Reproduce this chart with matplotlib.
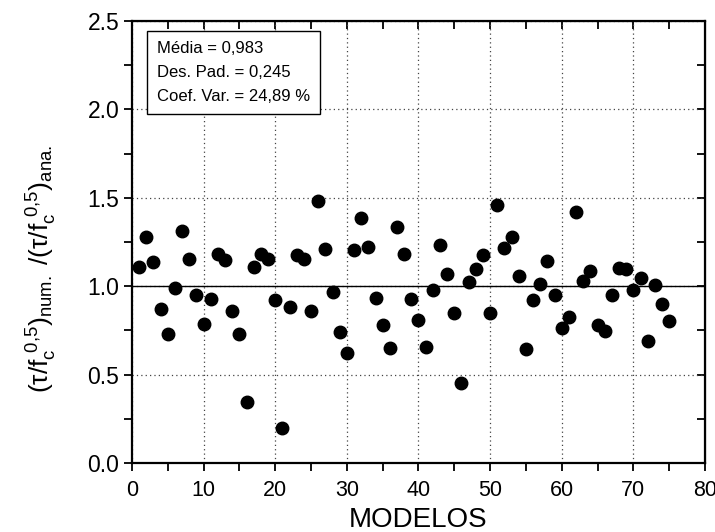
import matplotlib
matplotlib.use('Agg')
import matplotlib.pyplot as plt
from matplotlib.ticker import MultipleLocator, FormatStrFormatter

plt.rcParams['font.family'] = ['Liberation Sans', 'DejaVu Sans']
plt.rcParams['mathtext.fontset'] = 'custom'
plt.rcParams['mathtext.rm'] = 'Liberation Sans'
plt.rcParams['mathtext.it'] = 'Liberation Sans'
plt.rcParams['mathtext.bf'] = 'Liberation Sans:bold'

# dados: razao numerico / analitico por modelo
modelos = list(range(1, 76))
razao = [1.108, 1.278, 1.136, 0.871, 0.727, 0.992, 1.310, 1.154, 0.952, 0.786,
         0.929, 1.181, 1.148, 0.862, 0.727, 0.343, 1.109, 1.181, 1.154, 0.920,
         0.200, 0.880, 1.179, 1.152, 0.858, 1.484, 1.210, 0.966, 0.743, 0.625,
         1.204, 1.383, 1.221, 0.934, 0.779, 0.653, 1.334, 1.183, 0.925, 0.811,
         0.655, 0.981, 1.234, 1.070, 0.851, 0.451, 1.026, 1.100, 1.179, 0.847,
         1.458, 1.214, 1.280, 1.057, 0.642, 0.921, 1.015, 1.143, 0.949, 0.762,
         0.823, 1.421, 1.030, 1.085, 0.779, 0.749, 0.953, 1.104, 1.096, 0.981,
         1.049, 0.689, 1.008, 0.902, 0.804]
estat = ['Média = 0,983', 'Des. Pad. = 0,245', 'Coef. Var. = 24,89 %']

fig = plt.figure(figsize=(7.15, 5.32), dpi=100)
ax = fig.add_axes([0.1846, 0.1297, 0.8014, 0.8308])

ax.axhline(1.0, color='black', lw=1.0, zorder=2)
ax.plot(modelos, razao, 'o', color='black', ms=9, zorder=3, clip_on=False)

ax.set_xlim(0, 80)
ax.set_ylim(0, 2.5)
ax.xaxis.set_major_locator(MultipleLocator(10))
ax.xaxis.set_minor_locator(MultipleLocator(5))
ax.yaxis.set_major_locator(MultipleLocator(0.5))
ax.yaxis.set_minor_locator(MultipleLocator(0.25))
ax.yaxis.set_major_formatter(FormatStrFormatter('%.1f'))

ax.grid(True, which='major', color='#444444', ls=(0, (1, 2.5)), lw=0.9)
ax.set_axisbelow(True)

for s in ax.spines.values():
    s.set_linewidth(1.6)

ax.tick_params(which='both', direction='out', length=6, width=1.3)
ax.tick_params(axis='x', labelsize=15.5, pad=6)
ax.tick_params(axis='y', labelsize=16.5, pad=3)

# eixos superior e direito com ticks para dentro (estilo Origin)
ax2 = ax.secondary_xaxis('top')
ax2.set_xticks(range(0, 81, 5))
ax2.tick_params(direction='in', length=6, width=1.3, labeltop=False)
ax3 = ax.secondary_yaxis('right')
ax3.set_yticks([i * 0.25 for i in range(11)])
ax3.tick_params(direction='in', length=6, width=1.3, labelright=False)

ax.set_xlabel('MODELOS', fontsize=20)
ax.xaxis.set_label_coords(0.5, -0.1)
ax.set_ylabel(r'$(\tau/f_c^{\ 0{,}5})_{num.}\ /(\tau/f_c^{\ 0{,}5})_{ana.}$',
              fontsize=19)
ax.yaxis.set_label_coords(-0.128, 0.44)

ax.text(0.0436, 0.955, '\n'.join(estat), transform=ax.transAxes,
        fontsize=12, va='top', ha='left', linespacing=1.75,
        bbox=dict(boxstyle='square,pad=0.6', fc='white', ec='black', lw=1.0),
        zorder=5)

fig.savefig('out.png', dpi=100)
